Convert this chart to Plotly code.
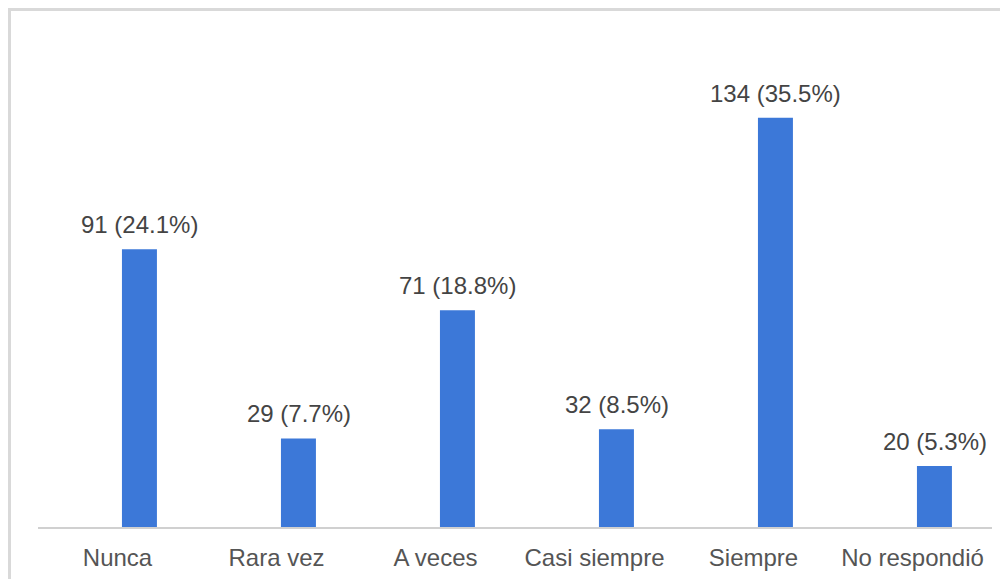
import plotly.graph_objects as go

categories = ["Nunca", "Rara vez", "A veces", "Casi siempre", "Siempre", "No respondió"]
counts = [91, 29, 71, 32, 134, 20]
percents = ["24.1", "7.7", "18.8", "8.5", "35.5", "5.3"]

BAR_COLOR = "#3c78d8"
FONT = "Arial, Liberation Sans, sans-serif"

# page body has an 8px margin: figure pixel = screen pixel - 8
L, T, B, R = 30, 61, 60, 24
PW, PH = 1008 - L - R, 579 - T - B

fig = go.Figure()
fig.add_trace(go.Bar(
    x=categories, y=counts,
    marker=dict(color=BAR_COLOR, line=dict(width=0)),
    width=0.22, offset=0.028,
    hoverinfo="skip",
))

for c, v, p in zip(categories, counts, percents):
    fig.add_annotation(
        x=c, y=v, text=f"{v} ({p}%)", showarrow=False,
        xref="x", yref="y", yanchor="bottom", xanchor="center",
        xshift=22, yshift=9,
        font=dict(family=FONT, size=24, color="#444444"),
    )

# outer light-gray frame
fig.add_shape(type="rect", xref="paper", yref="paper",
              x0=(1.5 - L) / PW, x1=(1040 - L) / PW,
              y0=-(100) / PH, y1=(579 - B - 1.5) / PH,
              line=dict(color="#d9d9d9", width=3), fillcolor="rgba(0,0,0,0)", layer="below")

fig.update_layout(
    width=1008, height=579,
    margin=dict(l=L, r=R, t=T, b=B),
    paper_bgcolor="white", plot_bgcolor="white",
    showlegend=False,
    font=dict(family=FONT, size=24, color="#555555"),
    xaxis=dict(
        type="category", showgrid=False, zeroline=False,
        showline=True, linecolor="#d0d0d0", linewidth=2,
        ticks="", ticklabelstandoff=8,
        tickfont=dict(family=FONT, size=24, color="#555555"),
        range=[-0.5, 5.5],
    ),
    yaxis=dict(
        range=[0, 150], showgrid=False, zeroline=False, showline=False,
        showticklabels=False, ticks="",
    ),
)

fig.write_html("out.html")
